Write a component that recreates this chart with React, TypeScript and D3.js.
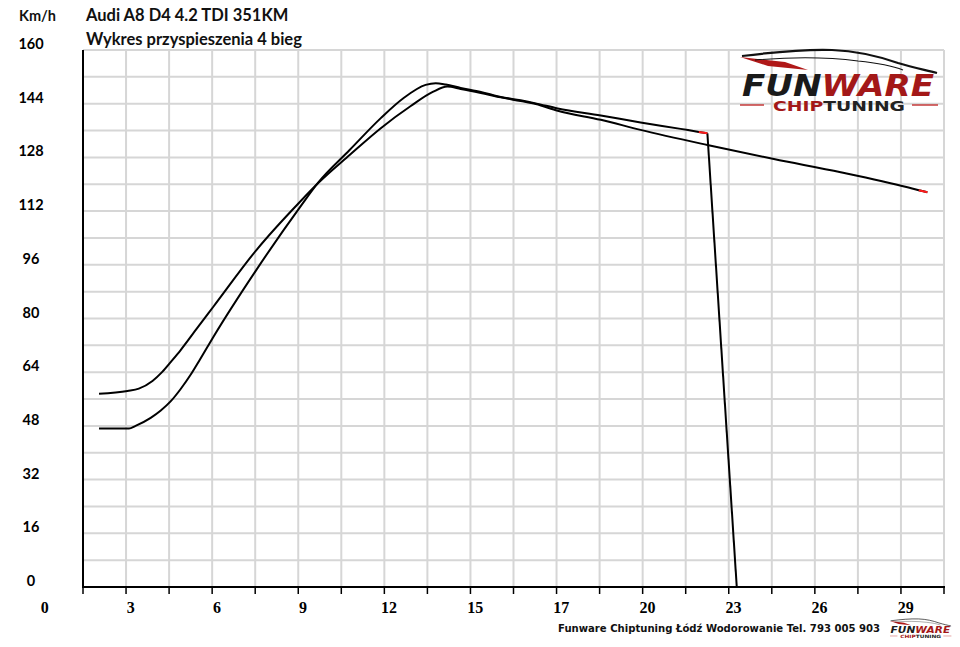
import { useEffect, useRef } from 'react'
import * as d3 from 'd3'

// speed (km/h) against time (s)
const timeA = [1.83, 2.79, 3.17, 3.63, 3.96, 4.27, 4.58, 5.14, 5.68, 7.13, 8.6, 9.23, 10.27, 11.32, 12.33, 13.07, 13.56, 14.01, 14.69, 15.36, 16.03, 16.54, 17.28, 18.73, 20.07, 22.32, 24.56, 26.81, 29.06, 29.44, 29.73]
const speedA = [57.6, 58.4, 59.1, 61.4, 64.1, 67.3, 70.6, 77.2, 83.5, 100.4, 114.8, 120.5, 128.7, 136.7, 143.3, 147.5, 149.1, 148.4, 147.2, 145.9, 144.8, 143.9, 141.9, 139.2, 136.2, 131.7, 127.5, 123.6, 119.1, 118.2, 117.6]

const timeB = [1.83, 2.84, 3.06, 3.57, 3.91, 4.24, 4.58, 4.92, 5.23, 5.68, 7.13, 8.6, 9.23, 10.27, 11.32, 12.09, 12.83, 13.17, 13.51, 14.01, 14.69, 15.36, 16.03, 16.54, 17.28, 18.73, 20.07, 21.42, 22.03, 22.32]
const speedB = [47.2, 47.2, 48.0, 50.4, 52.6, 55.3, 59.0, 63.3, 67.8, 74.5, 94.5, 113.2, 120.7, 130.2, 139.7, 145.7, 149.6, 150.1, 149.7, 148.7, 147.5, 146.0, 145.0, 144.1, 142.6, 140.5, 138.4, 136.5, 135.6, 135.2]

const dropTime = [22.32, 23.31]
const dropSpeed = [135.2, 0]

const xTickValues = [0, 2.9, 5.8, 8.7, 11.6, 14.5, 17.4, 20.3, 23.2, 26.1, 29.0]
const xTickLabels = ['0', '3', '6', '9', '12', '15', '17', '20', '23', '26', '29']
const yTickValues = [0, 16, 32, 48, 64, 80, 96, 112, 128, 144, 160]

const title = 'Audi A8 D4 4.2 TDI 351KM'
const subtitle = 'Wykres przyspieszenia 4 bieg'
const footer = 'Funware Chiptuning Łódź Wodorowanie Tel. 793 005 903'

type Pt = [number, number]
const zip = (t: number[], v: number[]): Pt[] => t.map((d, i) => [d, v[i]])

export default function App() {
  const svgRef = useRef<SVGSVGElement>(null)

  useEffect(() => {
    if (!svgRef.current) return
    const svg = d3.select(svgRef.current)
    svg.selectAll('*').remove()

    const left = 83, right = 944, top = 50, bottom = 587
    const x = d3.scaleLinear().domain([1.29, 30.29]).range([left, right])
    const y = d3.scaleLinear().domain([0, 160]).range([bottom, top])

    svg.append('rect').attr('width', 960).attr('height', 647).attr('fill', '#fff')

    // grid
    const grid = svg.append('g').attr('stroke', '#d6d6d6').attr('stroke-width', 2)
    const xGrid = d3.range(1, 21).map(k => 1.29 + 1.45 * k)
    grid.selectAll('line.v').data(xGrid).enter().append('line')
      .attr('x1', d => x(d)).attr('x2', d => x(d))
      .attr('y1', top).attr('y2', bottom)
    const yGrid = d3.range(1, 21).map(k => k * 8)
    grid.selectAll('line.h').data(yGrid).enter().append('line')
      .attr('x1', left).attr('x2', right)
      .attr('y1', d => y(d)).attr('y2', d => y(d))

    // axes
    svg.append('line').attr('x1', left).attr('x2', left).attr('y1', top).attr('y2', bottom + 1)
      .attr('stroke', '#000').attr('stroke-width', 2)
    svg.append('line').attr('x1', left - 1).attr('x2', right + 1).attr('y1', bottom).attr('y2', bottom)
      .attr('stroke', '#000').attr('stroke-width', 2)
    svg.selectAll('line.tick').data([1.29, ...xGrid]).enter().append('line')
      .attr('x1', d => x(d)).attr('x2', d => x(d))
      .attr('y1', bottom).attr('y2', bottom + 7)
      .attr('stroke', '#000').attr('stroke-width', 1.5)

    svg.append('g').selectAll('text').data(xTickValues).enter().append('text')
      .attr('x', d => x(d)).attr('y', 613)
      .attr('text-anchor', 'middle')
      .attr('font-family', '"Liberation Serif", serif').attr('font-weight', 'bold').attr('font-size', 16)
      .text((_, i) => xTickLabels[i])

    svg.append('g').selectAll('text').data(yTickValues).enter().append('text')
      .attr('x', 31).attr('y', d => y(d) - 1)
      .attr('text-anchor', 'middle')
      .attr('font-family', 'Lato, sans-serif').attr('font-weight', 'bold').attr('font-size', 14.5)
      .text(d => d)

    const txt = (s: string, tx: number, ty: number, size: number) =>
      svg.append('text').attr('x', tx).attr('y', ty)
        .attr('font-family', 'Lato, sans-serif').attr('font-weight', 'bold')
        .attr('font-size', size).attr('fill', '#111').text(s)
    txt('Km/h', 19, 21, 14.5)
    txt(title, 86, 21, 16.5)
    txt(subtitle, 86, 45, 16.5)

    svg.append('text').attr('x', 558).attr('y', 632)
      .attr('font-family', '"DejaVu Sans", sans-serif').attr('font-weight', 'bold').attr('font-size', 10.5)
      .attr('textLength', 322).attr('lengthAdjust', 'spacingAndGlyphs').attr('fill', '#111')
      .text(footer)

    // logos
    const logo = (g: d3.Selection<SVGGElement, unknown, null, undefined>) => {
      g.append('path').attr('d', 'M 740 57 L 785 62 L 808 70 L 768 66 Z').attr('fill', '#b01818')
      g.append('path').attr('d', 'M 742 56 C 775 52, 805 49, 832 50 C 858 51, 878 56, 898 63 C 914 68, 926 70, 937 73')
        .attr('fill', 'none').attr('stroke', '#111').attr('stroke-width', 2.2)
      g.append('path').attr('d', 'M 755 60 C 790 57, 828 57, 858 61 C 878 63, 893 66, 903 70')
        .attr('fill', 'none').attr('stroke', '#111').attr('stroke-width', 1.1)
      const word = g.append('text').attr('x', 742).attr('y', 96)
        .attr('font-family', '"DejaVu Sans", sans-serif').attr('font-weight', 'bold').attr('font-style', 'italic')
        .attr('font-size', 30).attr('textLength', 192).attr('lengthAdjust', 'spacingAndGlyphs')
      word.append('tspan').attr('fill', '#1a1a1a').text('FUN')
      word.append('tspan').attr('fill', '#a31818').text('WARE')
      const chip = g.append('text').attr('x', 773).attr('y', 111)
        .attr('font-family', '"DejaVu Sans", sans-serif').attr('font-weight', 'bold')
        .attr('font-size', 14).attr('textLength', 132).attr('lengthAdjust', 'spacingAndGlyphs')
      chip.append('tspan').attr('fill', '#a31818').text('CHIP')
      chip.append('tspan').attr('fill', '#222').text('TUNING')
      g.append('line').attr('x1', 740).attr('x2', 764).attr('y1', 105).attr('y2', 105).attr('stroke', '#c43a3a').attr('stroke-width', 1.5)
      g.append('line').attr('x1', 912).attr('x2', 938).attr('y1', 105).attr('y2', 105).attr('stroke', '#c43a3a').attr('stroke-width', 1.5)
    }
    logo(svg.append('g'))
    logo(svg.append('g').attr('transform', 'translate(890,618) scale(0.31) translate(-740,-47)'))

    // curves
    const line = d3.line<Pt>().x(d => x(d[0])).y(d => y(d[1])).curve(d3.curveMonotoneX)
    const straight = d3.line<Pt>().x(d => x(d[0])).y(d => y(d[1]))
    const a = zip(timeA, speedA)
    const b = zip(timeB, speedB)
    const curves = svg.append('g').attr('fill', 'none').attr('stroke-width', 2).attr('stroke-linejoin', 'round')
    curves.append('path').attr('d', line(a)).attr('stroke', '#000')
    curves.append('path').attr('d', line(b)).attr('stroke', '#000')
    curves.append('path').attr('d', straight(zip(dropTime, dropSpeed))).attr('stroke', '#000')
    curves.append('path').attr('d', straight(a.slice(-2))).attr('stroke', '#ff1a1a')
    curves.append('path').attr('d', straight(b.slice(-2))).attr('stroke', '#ff1a1a')
  }, [])

  return (
    <svg
      ref={svgRef}
      width={960}
      height={647}
      style={{ position: 'absolute', left: 0, top: 0 }}
    />
  )
}
